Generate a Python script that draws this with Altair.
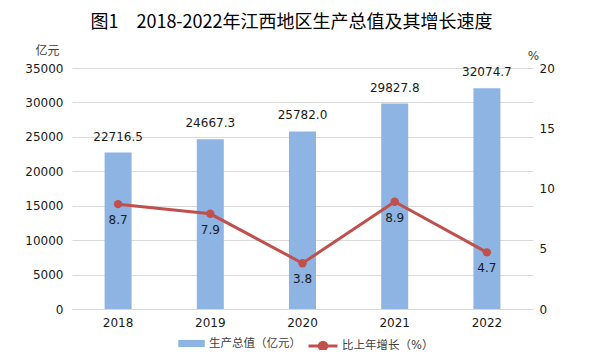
import altair as alt
import pandas as pd

years = ["2018", "2019", "2020", "2021", "2022"]
gdp = [22716.5, 24667.3, 25782.0, 29827.8, 32074.7]
growth = [8.7, 7.9, 3.8, 8.9, 4.7]
gdp_ticks = [0, 5000, 10000, 15000, 20000, 25000, 30000, 35000]
pct_ticks = [0, 5, 10, 15, 20]
title_text = "图1　2018-2022年江西地区生产总值及其增长速度"
bar_name = "生产总值（亿元）"
line_name = "比上年增长（%）"

BAR_COLOR = "#8DB4E2"
LINE_COLOR = "#C0504D"
FONT = "DejaVu Sans, Noto Sans CJK SC"
TXT = "#1a1a1a"

df = pd.DataFrame({"year": years, "gdp": gdp, "growth": growth,
                   "s1": [bar_name] * 5, "s2": [line_name] * 5})

x = alt.X("year:N", scale=alt.Scale(paddingInner=0, paddingOuter=0),
          axis=alt.Axis(title=None, labelAngle=0, labelFontWeight="normal", labelFontSize=12,
                        labelFont=FONT, labelColor=TXT, labelPadding=8,
                        domain=True, domainColor="#D9D9D9", domainWidth=1, ticks=False, grid=False))

y_left = alt.Y("gdp:Q", scale=alt.Scale(domain=[0, 35000], nice=False),
               axis=alt.Axis(values=gdp_ticks, format="d", title="亿元", titleAngle=0, titleX=-25, titleY=-18,
                             titleAlign="center", titleBaseline="middle", titleFontWeight="normal",
                             titleFontSize=12, titleFont=FONT, titleColor="#404040",
                             labelFontSize=12, labelFont=FONT, labelColor=TXT, labelPadding=9,
                             grid=True, gridColor="#D9D9D9", domain=False, ticks=False))

y_right = alt.Y("growth:Q", scale=alt.Scale(domain=[0, 20], nice=False),
                axis=alt.Axis(orient="right", values=pct_ticks, format="d", title="%", titleAngle=0,
                              titleX=0, titleY=-13,
                              titleAlign="center", titleBaseline="middle", titleFontWeight="normal",
                              titleFontSize=12, titleFont=FONT, titleColor="#404040",
                              labelFontSize=12, labelFont=FONT, labelColor=TXT, labelPadding=6,
                              grid=False, domain=False, ticks=False))

rect_path = "M-1,-0.27L1,-0.27L1,0.27L-1,0.27Z"
line_path = "M-1,0L1,0M0.26,0A0.26,0.26,0,1,1,-0.26,0A0.26,0.26,0,1,1,0.26,0Z"

base = alt.Chart(df)

bars = base.mark_bar(width=27).encode(
    x=x, y=y_left,
    color=alt.Color("s1:N", scale=alt.Scale(domain=[bar_name], range=[BAR_COLOR]),
                    legend=alt.Legend(orient="none", legendX=106, legendY=262, title=None,
                                      symbolType=rect_path, symbolSize=700, symbolStrokeWidth=0,
                                      labelFontSize=11.5, labelFont=FONT, labelColor="#404040",
                                      labelOffset=4, labelLimit=300)))

bar_text = base.mark_text(baseline="bottom", dy=-9, fontSize=12, font=FONT, color=TXT).encode(
    x=x, y=y_left, text=alt.Text("gdp:Q", format=".1f"))

line = base.mark_line(strokeWidth=3,
                      point=alt.OverlayMarkDef(filled=True, size=70)).encode(
    x=x, y=y_right,
    color=alt.Color("s2:N", scale=alt.Scale(domain=[line_name], range=[LINE_COLOR]),
                    legend=alt.Legend(orient="none", legendX=235, legendY=262, title=None,
                                      symbolType=line_path, symbolSize=841, symbolStrokeWidth=3,
                                      symbolFillColor=LINE_COLOR,
                                      labelFontSize=11.5, labelFont=FONT, labelColor="#404040",
                                      labelOffset=3, labelLimit=300)))

line_text = base.mark_text(baseline="top", dy=11, fontSize=12, font=FONT, color=TXT).encode(
    x=x, y=y_right, text=alt.Text("growth:Q", format=".1f"))

chart = alt.layer(alt.layer(bars, bar_text), alt.layer(line, line_text)).resolve_scale(
    y="independent", color="independent"
).properties(
    width=461, height=241,
    background="white",
    title=alt.TitleParams(text=title_text, font="Noto Sans CJK SC", fontSize=18,
                          fontWeight="normal", anchor="middle", dx=-11, offset=12, color="#000"),
    autosize=alt.AutoSizeParams(type="none"),
    padding={"left": 64, "top": 60, "right": 49, "bottom": 41},
).configure_view(stroke="transparent", strokeWidth=0)

chart.save("out.html", embed_options={"renderer": "svg", "actions": False})
